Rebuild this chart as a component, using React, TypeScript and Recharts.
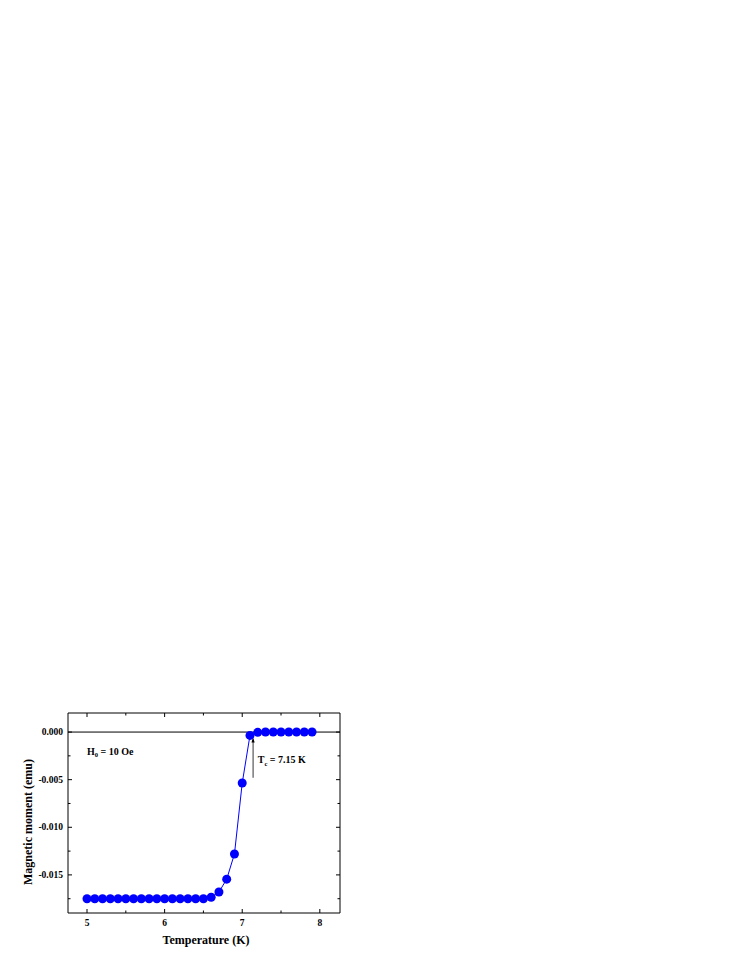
import React from "react";
import {
  LineChart,
  Line,
  XAxis,
  YAxis,
  ReferenceLine,
  ReferenceDot,
} from "recharts";

// Temperature (K) and measured magnetic moment (emu)
const temperature = [
  5.0, 5.1, 5.2, 5.3, 5.4, 5.5, 5.6, 5.7, 5.8, 5.9, 6.0, 6.1, 6.2, 6.3, 6.4,
  6.5, 6.6, 6.7, 6.8, 6.9, 7.0, 7.1, 7.2, 7.3, 7.4, 7.5, 7.6, 7.7, 7.8, 7.9,
];
const moment = [
  -0.0175, -0.0175, -0.0175, -0.0175, -0.0175, -0.0175, -0.0175, -0.0175,
  -0.0175, -0.0175, -0.0175, -0.0175, -0.0175, -0.0175, -0.0175, -0.0175,
  -0.01735, -0.0168, -0.01545, -0.0128, -0.00535, -0.00035, -0.00003, 0, 0, 0,
  0, 0, 0, 0,
];

const xTicks = [5, 5.5, 6, 6.5, 7, 7.5, 8];
const yTicks = [0, -0.0025, -0.005, -0.0075, -0.01, -0.0125, -0.015, -0.0175];
const xDomain = [4.755, 8.26];
const yDomain = [-0.019, 0.002];

const tcValue = 7.14;
const tcArrow = [-0.0048, -0.00057];

const data = temperature.map((t, i) => ({ t, m: moment[i] }));

const FONT = "'Liberation Serif', 'Times New Roman', serif";
const BLUE = "#0000ff";

const isMajorX = (v: number) => Math.abs(v - Math.round(v)) < 1e-6;
const isMajorY = (v: number) => Math.abs(v / 0.005 - Math.round(v / 0.005)) < 1e-6;

const BottomTick = (props: any) => {
  const { x, y, payload } = props;
  const major = isMajorX(payload.value);
  return (
    <g>
      <line x1={x} y1={y} x2={x} y2={y - (major ? 4 : 2.5)} stroke="#000" />
      {major && (
        <text x={x} y={y + 12.5} textAnchor="middle" fontFamily={FONT} fontWeight="bold" fontSize={9.5} fill="#000">
          {payload.value}
        </text>
      )}
    </g>
  );
};

const TopTick = (props: any) => {
  const { x, y, payload } = props;
  const major = isMajorX(payload.value);
  return <line x1={x} y1={y} x2={x} y2={y + (major ? 4 : 2.5)} stroke="#000" />;
};

const LeftTick = (props: any) => {
  const { x, y, payload } = props;
  const major = isMajorY(payload.value);
  return (
    <g>
      <line x1={x} y1={y} x2={x + (major ? 4 : 2.5)} y2={y} stroke="#000" />
      {major && (
        <text x={x - 5} y={y + 3.2} textAnchor="end" fontFamily={FONT} fontWeight="bold" fontSize={9.5} fill="#000">
          {payload.value.toFixed(3)}
        </text>
      )}
    </g>
  );
};

const RightTick = (props: any) => {
  const { x, y, payload } = props;
  const major = isMajorY(payload.value);
  return <line x1={x} y1={y} x2={x - (major ? 4 : 2.5)} y2={y} stroke="#000" />;
};

const ArrowShape = (props: any) => {
  const { x1, y1, x2, y2 } = props;
  const top = Math.min(y1, y2);
  const bottom = Math.max(y1, y2);
  return (
    <g>
      <line x1={x1} y1={bottom} x2={x2} y2={top + 2} stroke="#000" strokeWidth={0.8} />
      <path d={`M${x1},${top} L${x1 - 1.6},${top + 5} L${x1 + 1.6},${top + 5} Z`} fill="#000" />
    </g>
  );
};

export default function App() {
  return (
    <div style={{ position: "absolute", left: 0, top: 700 }}>
      <LineChart
        width={350}
        height={260}
        data={data}
        margin={{ top: 12, right: 8, bottom: 0, left: 0 }}
      >
        <XAxis
          dataKey="t"
          type="number"
          domain={xDomain}
          allowDataOverflow
          ticks={xTicks}
          interval={0}
          tickSize={0}
          tickMargin={0}
          tick={<BottomTick />}
          axisLine={{ stroke: "#000" }}
          height={47}
          label={{
            content: (p: any) => (
              <text
                x={p.viewBox.x + p.viewBox.width / 2 + 2}
                y={p.viewBox.y + 31}
                textAnchor="middle"
                fontFamily={FONT}
                fontWeight="bold"
                fontSize={12}
                fill="#000"
              >
                Temperature (K)
              </text>
            ),
          }}
        />
        <XAxis
          xAxisId="top"
          orientation="top"
          dataKey="t"
          type="number"
          domain={xDomain}
          allowDataOverflow
          ticks={xTicks}
          interval={0}
          tickSize={0}
          tickMargin={0}
          tick={<TopTick />}
          axisLine={{ stroke: "#000" }}
          height={1}
        />
        <YAxis
          type="number"
          domain={yDomain}
          allowDataOverflow
          ticks={yTicks}
          interval={0}
          tickSize={0}
          tickMargin={0}
          tick={<LeftTick />}
          axisLine={{ stroke: "#000" }}
          width={68}
          label={{
            content: (p: any) => {
              const cx = p.viewBox.x + 28;
              const cy = p.viewBox.y + p.viewBox.height / 2 + 9;
              return (
                <text
                  x={cx}
                  y={cy}
                  transform={`rotate(-90 ${cx} ${cy})`}
                  textAnchor="middle"
                  dominantBaseline="central"
                  fontFamily={FONT}
                  fontWeight="bold"
                  fontSize={12}
                  fill="#000"
                >
                  Magnetic moment (emu)
                </text>
              );
            },
          }}
        />
        <YAxis
          yAxisId="right"
          orientation="right"
          type="number"
          domain={yDomain}
          allowDataOverflow
          ticks={yTicks}
          interval={0}
          tickSize={0}
          tickMargin={0}
          tick={<RightTick />}
          axisLine={{ stroke: "#000" }}
          width={2}
        />
        <ReferenceLine y={0} stroke="#000" strokeWidth={1} />
        <ReferenceLine
          segment={[
            { x: tcValue, y: tcArrow[0] },
            { x: tcValue, y: tcArrow[1] },
          ]}
          shape={<ArrowShape />}
        />
        <ReferenceDot
          x={5.0}
          y={-0.0024}
          r={0}
          shape={(p: any) => (
            <text x={p.cx} y={p.cy} fontFamily={FONT} fontWeight="bold" fontSize={10} fill="#000">
              H
              <tspan fontSize={6.5} dy={2.5}>0</tspan>
              <tspan dy={-2.5}> = 10 Oe</tspan>
            </text>
          )}
        />
        <ReferenceDot
          x={7.2}
          y={-0.00326}
          r={0}
          shape={(p: any) => (
            <text x={p.cx} y={p.cy} fontFamily={FONT} fontWeight="bold" fontSize={10} fill="#000">
              T
              <tspan fontSize={6.5} dy={2.5}>c</tspan>
              <tspan dy={-2.5}> = 7.15 K</tspan>
            </text>
          )}
        />
        <Line
          dataKey="m"
          stroke={BLUE}
          strokeWidth={1}
          dot={{ r: 4.5, fill: BLUE, stroke: "none" }}
          isAnimationActive={false}
        />
      </LineChart>
    </div>
  );
}
